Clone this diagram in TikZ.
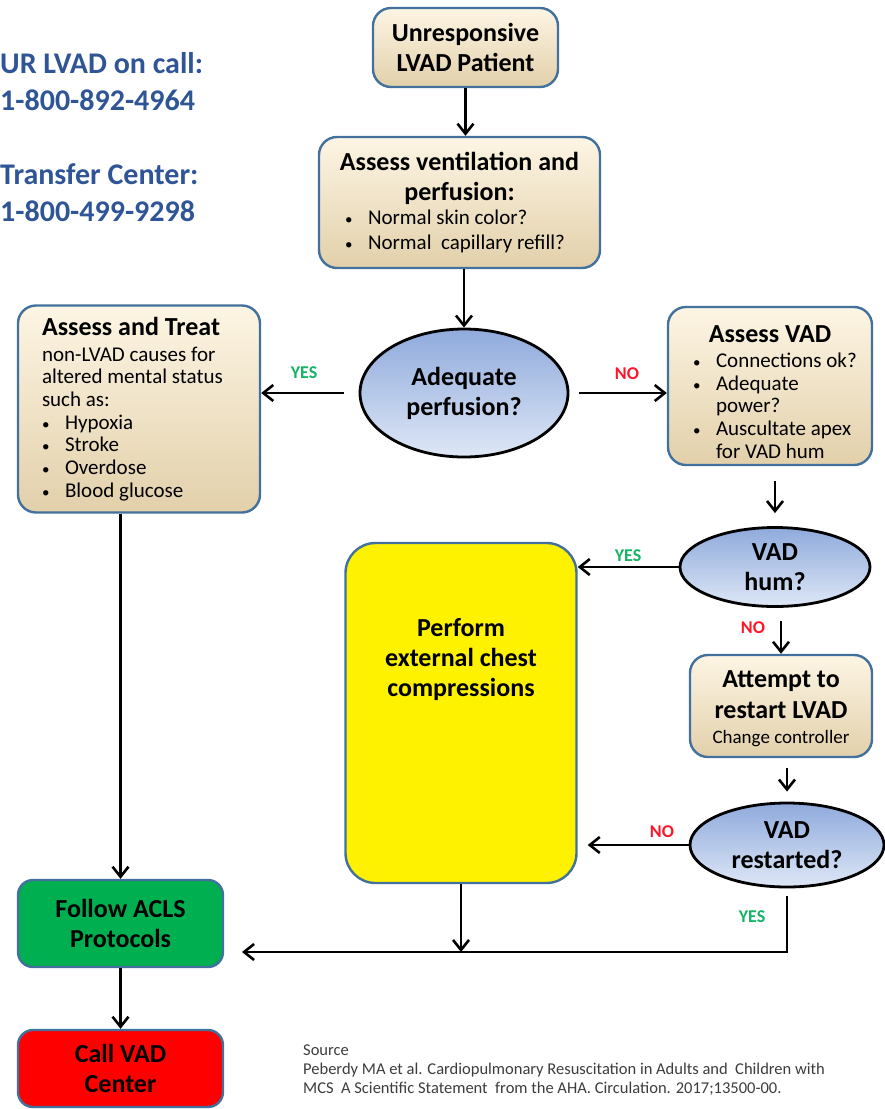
\documentclass[tikz,border=0pt]{standalone}
\usepackage{fontspec}
\setmainfont{Carlito}
\usetikzlibrary{shapes.geometric,arrows.meta}

\definecolor{boxedge}{RGB}{65,113,156}
\definecolor{beigetop}{RGB}{253,245,228}
\definecolor{beigebot}{RGB}{226,208,170}
\definecolor{ovaltop}{RGB}{143,170,220}
\definecolor{ovalbot}{RGB}{222,231,246}
\definecolor{yesgreen}{RGB}{20,180,100}
\definecolor{nored}{RGB}{255,20,40}
\definecolor{phoneblue}{RGB}{47,85,151}
\definecolor{aclsgreen}{RGB}{0,176,80}
\definecolor{callred}{RGB}{255,0,0}
\definecolor{sourcegray}{RGB}{60,60,60}

\setlength{\parindent}{0pt}
\newcommand{\titlesize}{\fontsize{26}{30}\selectfont\bfseries}
\newcommand{\bodysize}{\fontsize{21}{22.7}\selectfont\mdseries}
\newcommand{\bul}[1]{\makebox[23pt][l]{\fontsize{15}{15}\selectfont\textbullet}\mbox{#1}}
\newcommand{\boxhead}[1]{\makebox[\hsize]{#1}\par}

\begin{document}
\begin{tikzpicture}[x=1pt, y=-1pt,
        boxnode/.style = {rectangle, rounded corners=18pt, draw=boxedge, line width=2.4pt, top color=beigetop, bottom color=beigebot, align=center, inner sep=0pt, font=\titlesize},
        oval/.style = {ellipse, draw=black, line width=2.8pt, top color=ovaltop, bottom color=ovalbot, align=center, inner sep=0pt, font=\titlesize},
        endbox/.style = {rectangle, rounded corners=15pt, draw=boxedge, line width=2.4pt, align=center, inner sep=0pt, font=\titlesize, minimum width=205pt},
        answer/.style = {font=\fontsize{18}{20}\selectfont\bfseries},
        arr/.style = {-{Straight Barb[length=10pt,width=16pt]}, line width=2.6pt}
        ]
        \useasboundingbox (0,0) rectangle (885,1109);

        \node[anchor=west, align=left, inner sep=0pt, text=phoneblue, font=\fontsize{30}{37}\selectfont\bfseries] (oncall) at (0,81.5) {UR LVAD on call:\\1-800-892-4964};
        \node[anchor=west, align=left, inner sep=0pt, text=phoneblue, font=\fontsize{30}{37}\selectfont\bfseries] (transfer) at (0,193) {Transfer Center:\\1-800-499-9298};

        \node[boxnode, minimum width=185pt, minimum height=79pt] (start) at (465.5,47.5) {Unresponsive\\LVAD Patient};
        \node[boxnode, minimum width=281pt, minimum height=131pt, text width=229pt, align=flush left] (vent) at (459.5,202.5) {\boxhead{Assess ventilation and}\boxhead{perfusion:}\vspace{2pt}\bodysize\bul{Normal skin color?}\\[2pt]\bul{Normal\ \ capillary refill?}\par};
        \node[oval, minimum width=208pt, minimum height=128pt] (perf) at (464,393) {Adequate\\perfusion?};
        \node[boxnode, minimum width=242pt, minimum height=207pt, text width=194pt, align=flush left] (treat) at (139,409) {Assess and Treat\par\vspace{3pt}\bodysize non-LVAD causes for\\altered mental status\\such as:\\\bul{Hypoxia}\\\bul{Stroke}\\\bul{Overdose}\\\bul{Blood glucose}\par};
        \node[boxnode, minimum width=204pt, minimum height=158pt, text width=154pt, align=flush left] (vad) at (770,386) {\boxhead{\rule{0pt}{29pt}Assess VAD}\vspace{2pt}\bodysize\bul{Connections ok?}\\\bul{Adequate}\\\hspace*{23pt}power?\\\bul{Auscultate apex}\\\hspace*{23pt}for VAD hum\par};
        \node[oval, minimum width=190pt, minimum height=79pt] (hum) at (775,567) {VAD\\hum?};
        \node[rectangle, rounded corners=30pt, draw=boxedge, line width=2.4pt, fill=yellow, inner sep=0pt, font=\titlesize] (chest) at (461,713) {\parbox[c][340pt][t]{231pt}{\centering\vspace*{75pt}Perform\\external chest\\compressions}};
        \node[boxnode, minimum width=182pt, minimum height=102pt] (retry) at (781,706) {\rule{0pt}{23pt}Attempt to\\[1pt]restart LVAD\\[-5pt]{\fontsize{19}{20}\selectfont\mdseries Change controller}};
        \node[oval, minimum width=194pt, minimum height=84pt] (restarted) at (787,845) {VAD\\restarted?};
        \node[endbox, fill=aclsgreen, minimum height=87pt] (acls) at (120.5,923.5) {Follow ACLS\\Protocols};
        \node[endbox, fill=callred, minimum height=77pt] (call) at (120.5,1068.5) {Call VAD\\Center};
        \node[anchor=north west, align=left, inner sep=0pt, text=sourcegray, font=\fontsize{16.5}{19}\selectfont] (source) at (303,1045) {Source\\Peberdy MA et al. Cardiopulmonary Resuscitation in Adults and\ \ Children with\\MCS\ \ A Scientific Statement\ \ from the AHA. Circulation. 2017;13500-00.};

        \node[answer, text=yesgreen] (yesperf) at (304,373) {YES};
        \node[answer, text=nored] (noperf) at (627,374) {NO};
        \node[answer, text=yesgreen] (yeshum) at (628,556) {YES};
        \node[answer, text=nored] (nohum) at (753,628) {NO};
        \node[answer, text=nored] (norestart) at (662,832) {NO};
        \node[answer, text=yesgreen] (yesrestart) at (752,917) {YES};

        \coordinate (merge) at (461,952);
        \coordinate (mergeend) at (242,952);

        \draw[arr] (start.south) -- (start.south |- vent.north);
        \draw[arr] (perf.north |- vent.south) -- (perf.north);
        \draw[arr, shorten <=15pt] (perf.west) -- (perf.west -| treat.east);
        \draw[arr, shorten <=10pt] (perf.east) -- (perf.east -| vad.west);
        \draw[arr, shorten <=15pt, shorten >=13pt] (hum.north |- vad.south) -- (hum.north);
        \draw[arr] (hum.west) -- (hum.west -| chest.east);
        \draw[arr, shorten <=13pt] (retry.north |- hum.south) -- (retry.north);
        \draw[arr, shorten <=10pt, shorten >=10pt] (restarted.north |- retry.south) -- (restarted.north);
        \draw[arr, shorten >=10pt] (restarted.west) -- (restarted.west -| chest.east);
        \draw[arr] (chest.south) -- (merge);
        \draw[arr, shorten <=8pt] (restarted.south) |- (mergeend);
        \draw[arr] (acls.north |- treat.south) -- (acls.north);
        \draw[arr] (acls) -- (call);
\end{tikzpicture}
\end{document}
